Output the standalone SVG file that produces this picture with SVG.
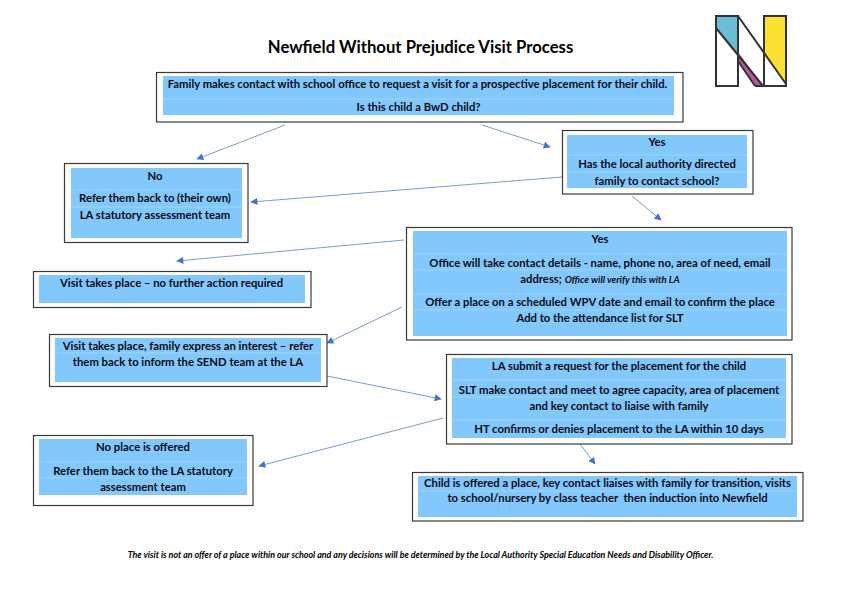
<svg xmlns="http://www.w3.org/2000/svg" width="841" height="595" viewBox="0 0 841 595">
<defs>
<marker id="ah" viewBox="0 0 10 10" refX="9" refY="5" markerWidth="8" markerHeight="7" markerUnits="userSpaceOnUse" orient="auto"><path d="M0 0L10 5L0 10z" fill="#4472c4"/></marker>
</defs>
<style>
.o{fill:#fff;stroke:#3a3a3a;stroke-width:1.2}
.i{fill:#82c8fd}
.s{stroke:#a8dcff;stroke-width:.7}
text{font-family:Lato,"Liberation Sans",sans-serif;font-weight:700;font-size:11.3px;fill:#0a0a14;text-anchor:middle;white-space:pre}
.c{stroke:#5b80c4;stroke-width:.8;fill:none;marker-end:url(#ah)}
</style>
<rect width="841" height="595" fill="#fff"/>
<text id="title" x="420.500" y="53" style="font-size:16.700px;fill:#000">Newfield Without Prejudice Visit Process</text>
<g id="logo" stroke="#333" stroke-width="2" stroke-linejoin="miter">
<path d="M716 16H738V55L716 28z" fill="#6cbcd8" stroke="none"/>
<path d="M738 52L763 86H755L738 61z" fill="#b9559f" stroke="none"/>
<path d="M764 16H786V84L764 54z" fill="#fbe232" stroke="none"/>
<path d="M716 16H738V86H716zM764 86V16H786V86H755M738 16L786 84M716 28L738 55L763 86M738 61L755 86" fill="none"/>
</g>
<g id="connectors">
<path class="c" d="M285 125L197 159"/>
<path class="c" d="M482 125L550 147"/>
<path class="c" d="M562 177L251 202"/>
<path class="c" d="M632 196L661 220"/>
<path class="c" d="M404 240L177 261"/>
<path class="c" d="M402 307L327 343"/>
<path class="c" d="M327 376L441 399"/>
<path class="c" d="M443 418L259 466"/>
<path class="c" d="M580 444L595 464"/>
</g>
<g id="n1"><rect class="o" x="156.500" y="72.500" width="526.500" height="49.500"/><rect class="i" x="163" y="76" width="511" height="39"/><path class="s" d="M163 99H674"/>
<text x="417.500" y="88">Family makes contact with school office to request a visit for a prospective placement for their child.</text><text x="418.500" y="111">Is this child a BwD child?</text></g>
<g id="n2"><rect class="o" x="64.500" y="163.500" width="183.500" height="79"/><rect class="i" x="71" y="168" width="171" height="70"/><path class="s" d="M71 190H242M71 207H242"/>
<text x="155" y="180">No</text><text x="155" y="202">Refer them back to (their own)</text><text x="155" y="219">LA statutory assessment team</text></g>
<g id="n3"><rect class="o" x="562.500" y="130.500" width="190.500" height="63.500"/><rect class="i" x="567" y="135" width="180" height="53"/><path class="s" d="M567 155H747M567 172H747"/>
<text x="657" y="146">Yes</text><text x="657" y="168">Has the local authority directed</text><text x="657" y="185">family to contact school?</text></g>
<g id="n4"><rect class="o" x="406.500" y="227.500" width="385.500" height="112.500"/><rect class="i" x="413" y="231" width="374" height="105"/><path class="s" d="M413 254H787M413 270H787M413 294H787M413 310H787"/>
<text x="600" y="243">Yes</text><text x="600" y="267">Office will take contact details - name, phone no, area of need, email</text><text x="600" y="283">address; <tspan style="font-size:9.600px;font-style:italic">Office will verify this with LA</tspan></text><text x="600" y="306">Offer a place on a scheduled WPV date and email to confirm the place</text><text x="600" y="322">Add to the attendance list for SLT</text></g>
<g id="n5"><rect class="o" x="33.500" y="271.500" width="277.500" height="36"/><rect class="i" x="39" y="275" width="266" height="28"/>
<text x="171.500" y="287">Visit takes place – no further action required</text></g>
<g id="n6"><rect class="o" x="49.500" y="334.500" width="277.500" height="52"/><rect class="i" x="55" y="338" width="266" height="44"/><path class="s" d="M55 353H321"/>
<text x="188" y="350">Visit takes place, family express an interest – refer</text><text x="188" y="366">them back to inform the SEND team at the LA</text></g>
<g id="n7"><rect class="o" x="446.500" y="354.500" width="345.500" height="89.500"/><rect class="i" x="452" y="358" width="334" height="80"/><path class="s" d="M452 380H786M452 397H786M452 420H786"/>
<text x="619" y="370">LA submit a request for the placement for the child</text><text x="619" y="394">SLT make contact and meet to agree capacity, area of placement</text><text x="619" y="410">and key contact to liaise with family</text><text x="619" y="433">HT confirms or denies placement to the LA within 10 days</text></g>
<g id="n8"><rect class="o" x="33.500" y="435.500" width="219.500" height="70"/><rect class="i" x="39" y="439" width="208" height="56"/><path class="s" d="M39 462H247M39 478H247"/>
<text x="143" y="451">No place is offered</text><text x="143" y="475">Refer them back to the LA statutory</text><text x="143" y="491">assessment team</text></g>
<g id="n9"><rect class="o" x="412.500" y="472.500" width="390.500" height="48.500"/><rect class="i" x="418" y="476" width="379" height="41"/><path class="s" d="M418 491H797"/>
<text x="607.500" y="487">Child is offered a place, key contact liaises with family for transition, visits</text><text x="607.500" y="502">to school/nursery by class teacher  then induction into Newfield</text></g>
<text id="note" x="420.500" y="558" style="font-size:8.900px;font-style:italic;fill:#000">The visit is not an offer of a place within our school and any decisions will be determined by the Local Authority Special Education Needs and Disability Officer.</text>
</svg>
